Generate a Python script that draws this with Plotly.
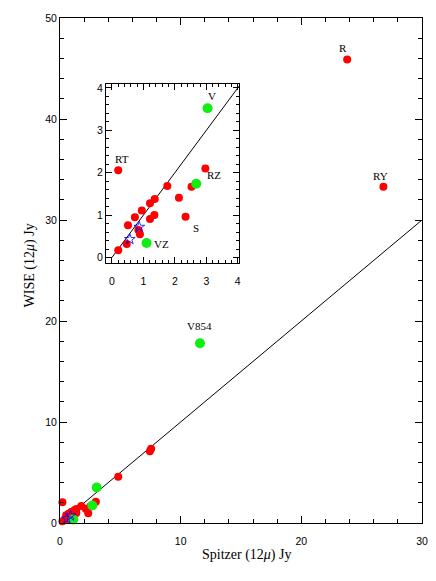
import plotly.graph_objects as go

# red objects (Spitzer 12u, WISE 12u) in Jy
red_x = [0.20, 2.97, 2.53, 1.76, 2.13, 1.36, 1.21, 0.95, 1.35, 1.21, 2.34, 0.73,
         0.51, 0.84, 0.89, 0.47, 0.20, 23.8, 26.8, 7.55, 7.45, 4.83]
red_y = [2.06, 2.10, 1.67, 1.69, 1.41, 1.38, 1.28, 1.11, 1.00, 0.91, 0.96, 0.95,
         0.76, 0.65, 0.55, 0.32, 0.17, 45.9, 33.3, 7.35, 7.10, 4.58]

green_x = [3.04, 2.68, 1.10, 11.6]
green_y = [3.52, 1.74, 0.34, 17.8]

star_x = [0.87, 0.57]
star_y = [0.72, 0.43]

# one-to-one line
line_x = [0, 30]
line_y = [0, 30]

# labelled objects: name, x, y, pixel offset of label
main_labels = [("R", 23.8, 45.9, -4, 11), ("RY", 26.8, 33.3, -3, 11), ("V854", 11.6, 17.8, 0, 17)]
inset_labels = [("V", 3.04, 3.52, 4, 12), ("RT", 0.20, 2.06, 4, 11), ("RZ", 2.97, 2.10, 9, -7),
                ("S", 2.34, 0.96, 10, -11), ("VZ", 1.10, 0.34, 15, -1)]

serif = "Liberation Serif"
sans = "Liberation Sans"

fig = go.Figure()

for xa, ya, clip in [("x", "y", False), ("x2", "y2", True)]:
    fig.add_trace(go.Scatter(x=line_x, y=line_y, mode="lines", xaxis=xa, yaxis=ya,
                             line=dict(color="black", width=1), cliponaxis=True))
    fig.add_trace(go.Scatter(x=red_x, y=red_y, mode="markers", xaxis=xa, yaxis=ya,
                             marker=dict(color="red", size=8), cliponaxis=clip))
    fig.add_trace(go.Scatter(x=green_x, y=green_y, mode="markers", xaxis=xa, yaxis=ya,
                             marker=dict(color="#11ee11", size=10), cliponaxis=clip))
    fig.add_trace(go.Scatter(x=star_x, y=star_y, mode="markers", xaxis=xa, yaxis=ya,
                             marker=dict(symbol="star-open", color="blue", size=8,
                                         line=dict(width=0.8, color="blue")),
                             cliponaxis=clip))

for name, x, y, dx, dy in main_labels:
    fig.add_annotation(x=x, y=y, xref="x", yref="y", text=name, showarrow=False,
                       xshift=dx, yshift=dy, font=dict(family=serif, size=11, color="black"))
for name, x, y, dx, dy in inset_labels:
    fig.add_annotation(x=x, y=y, xref="x2", yref="y2", text=name, showarrow=False,
                       xshift=dx, yshift=dy, font=dict(family=serif, size=11, color="black"))

# axis titles
fig.add_annotation(x=0.514, y=-0.063, xref="paper", yref="paper", text="Spitzer (12<i>μ</i>) Jy",
                   xanchor="center", yanchor="middle",
                   showarrow=False, font=dict(family=serif, size=14, color="black"))
fig.add_annotation(x=-0.083, y=0.51, xref="paper", yref="paper", text="WISE (12<i>μ</i>) Jy",
                   xanchor="center", yanchor="middle",
                   showarrow=False, textangle=-90, font=dict(family=serif, size=14, color="black"))

axis_common = dict(showgrid=False, zeroline=False, showline=True, linecolor="black",
                   linewidth=1, mirror="ticks", ticks="inside", tickcolor="black",
                   automargin=False,
                   tickfont=dict(family=sans, size=10.5, color="black"))

fig.update_layout(
    width=428, height=573,
    margin=dict(l=52, r=14, t=10, b=58),
    paper_bgcolor="white", plot_bgcolor="white",
    showlegend=False,
    xaxis=dict(range=[0, 30], dtick=10, ticklen=7, ticklabelstandoff=8,
               minor=dict(dtick=2, ticks="inside", ticklen=4, tickcolor="black"),
               **axis_common),
    yaxis=dict(range=[0, 50], dtick=10, ticklen=7,
               minor=dict(dtick=2, ticks="inside", ticklen=4, tickcolor="black"),
               **axis_common),
    xaxis2=dict(domain=[0.127, 0.4945], anchor="y2", range=[-0.19, 4.04], dtick=1, ticklen=6,
                ticklabelstandoff=8,
                minor=dict(dtick=0.2, ticks="inside", ticklen=3, tickcolor="black"),
                **axis_common),
    yaxis2=dict(domain=[0.514, 0.869], anchor="x2", range=[-0.14, 4.09], dtick=1, ticklen=6,
                minor=dict(dtick=0.2, ticks="inside", ticklen=3, tickcolor="black"),
                **axis_common),
)

fig.write_html("out.html")
